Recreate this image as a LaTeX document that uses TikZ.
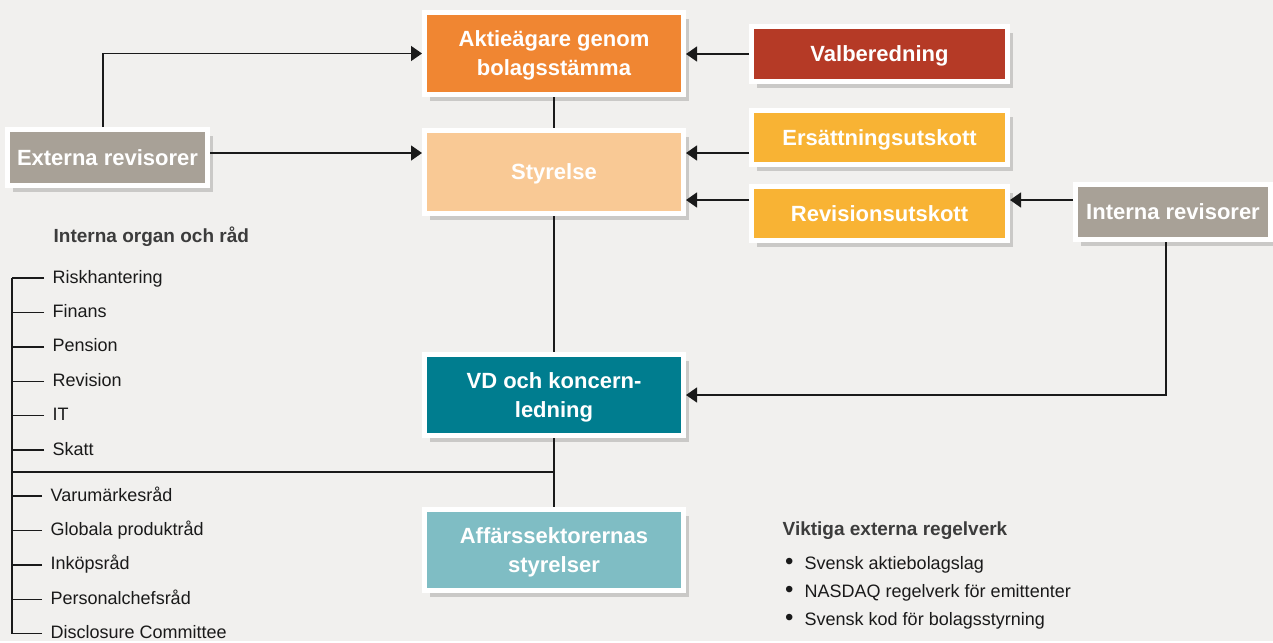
\documentclass[tikz,border=0pt]{standalone}
\usepackage{fontspec}
\setmainfont{Liberation Sans}
\usetikzlibrary{arrows.meta,positioning,shadows}

\definecolor{bgcol}{HTML}{F1F0EE}
\definecolor{orangecol}{HTML}{F08632}
\definecolor{redcol}{HTML}{B53A26}
\definecolor{peachcol}{HTML}{F9C995}
\definecolor{ambercol}{HTML}{F8B334}
\definecolor{taupecol}{HTML}{A8A197}
\definecolor{tealcol}{HTML}{007D8F}
\definecolor{lightteal}{HTML}{7FBDC4}
\definecolor{linecol}{HTML}{1A1A1A}

\begin{document}
\begin{tikzpicture}[
    x = 0.5pt, y = -0.5pt, % one unit per pixel
    > = {Triangle[length=5.5pt,width=7.5pt]}, % arrow head style
    line width = 0.7pt,
    node distance = 17.2pt, % distance between list items
    ]

    \tikzset{
    box/.style = {
        draw = white,
        line width = 2.5pt,
        text = white,
        font = \fontsize{11}{14.5}\selectfont\bfseries,
        align = center,
        inner sep = 0pt,
        text depth = 0pt,
        drop shadow = {shadow xshift=2.5pt, shadow yshift=-3pt, fill=black, opacity=.16}
    },
    mainbox/.style = {box, minimum width = 129.5pt, minimum height = 41pt},
    sidebox/.style = {box, minimum width = 128pt, minimum height = 27.5pt},
    item/.style = {inner sep = 0pt, text height = 7pt, text depth = 2pt,
        font = \fontsize{9}{11}\selectfont, text = linecol},
    heading/.style = {inner sep = 0pt, font = \fontsize{9.5}{11}\selectfont\bfseries, text = linecol!85},
    link/.style = {draw = linecol, line width = 0.7pt}
    }

    % background
    \fill[bgcol] (0,0) rectangle (1273,641);

    % boxes
    \node[mainbox, fill = orangecol] (aktie) at (554,53.5) {Aktieägare genom\\bolagsstämma};
    \node[sidebox, fill = redcol] (valb) at (879.5,54) {Valberedning};
    \node[box, fill = taupecol, minimum width = 100pt, minimum height = 28pt] (extrev) at (107.5,157.5) {Externa revisorer};
    \node[mainbox, fill = peachcol, minimum height = 41.5pt] (styr) at (554,172) {Styrelse};
    \node[sidebox, fill = ambercol, minimum height = 27pt] (ers) at (879.5,137.5) {Ersättningsutskott};
    \node[sidebox, fill = ambercol, minimum height = 27pt] (revu) at (879.5,213.5) {Revisionsutskott};
    \node[box, fill = taupecol, minimum width = 97.5pt, minimum height = 27.5pt] (intrev) at (1173,212) {Interna revisorer};
    \node[mainbox, fill = tealcol, minimum height = 40.5pt] (vd) at (554,395) {VD och koncern-\\ledning};
    \node[mainbox, fill = lightteal, minimum height = 40.5pt] (aff) at (554,550) {Affärssektorernas\\styrelser};

    % levels of the side arrows
    \coordinate (lvlA) at (0,153);
    \coordinate (lvlB) at (0,200);
    \coordinate (split) at (554,472);
    \coordinate (spine) at (12,0);

    % connectors
    \path[link] (aktie) -- (styr);
    \path[link] (styr) -- (vd);
    \path[link] (vd) -- (aff);
    \path[link, ->] ([xshift=-2.25pt]extrev.north) |- (aktie.west);
    \path[link, ->] (extrev.east |- lvlA) -- (styr.west |- lvlA);
    \path[link, ->] (valb.west) -- (valb.west -| aktie.east);
    \path[link, ->] (ers.west |- lvlA) -- (styr.east |- lvlA);
    \path[link, ->] (revu.west |- lvlB) -- (styr.east |- lvlB);
    \path[link, ->] (intrev.west |- lvlB) -- (revu.east |- lvlB);
    \path[link, ->] ([xshift=-3.5pt]intrev.south) |- (vd.east);

    % internal bodies and councils
    \node[heading, anchor = west] (inthead) at (53,237) {Interna organ och råd};
    \node[item, anchor = west] (i1) at (52,278) {Riskhantering};
    \node[item] (i2) [below=of i1.west, anchor=west] {Finans};
    \node[item] (i3) [below=of i2.west, anchor=west] {Pension};
    \node[item] (i4) [below=of i3.west, anchor=west] {Revision};
    \node[item] (i5) [below=of i4.west, anchor=west] {IT};
    \node[item] (i6) [below=of i5.west, anchor=west] {Skatt};
    \node[item, anchor = west] (i7) at (50,496) {Varumärkesråd};
    \node[item] (i8) [below=of i7.west, anchor=west] {Globala produktråd};
    \node[item] (i9) [below=of i8.west, anchor=west] {Inköpsråd};
    \node[item] (i10) [below=of i9.west, anchor=west] {Personalchefsråd};
    \node[item] (i11) [below=of i10.west, anchor=west] {Disclosure Committee};

    \path[link] (i1.west -| spine) -- (i11.west -| spine);
    \foreach \i in {1,...,11}
        \path[link] ([xshift=-4pt]i\i.west) -- (i\i.west -| spine);
    \path[link] (split) -- (split -| spine);

    % external rules
    \node[heading, anchor = west] (exthead) at (782,531) {Viktiga externa regelverk};
    \node[item, anchor = west] (r1) at (784.5,564) {\makebox[9.75pt][l]{\large\textbullet}Svensk aktiebolagslag};
    \node[item] (r2) [below=14pt of r1.west, anchor=west] {\makebox[9.75pt][l]{\large\textbullet}NASDAQ regelverk för emittenter};
    \node[item] (r3) [below=14pt of r2.west, anchor=west] {\makebox[9.75pt][l]{\large\textbullet}Svensk kod för bolagsstyrning};
\end{tikzpicture}
\end{document}
